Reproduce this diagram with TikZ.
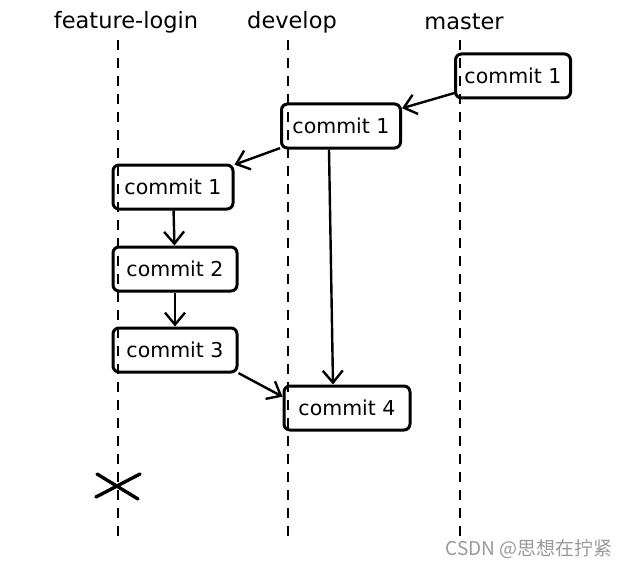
\documentclass[tikz,border=0pt]{standalone}
\usepackage{fontspec}
\setmainfont{DejaVu Sans}
\newfontfamily\cjkfont{Noto Sans CJK SC}
\usetikzlibrary{arrows.meta}
\tikzset{
  commit/.style={draw,rounded corners=6pt,line width=3pt,minimum height=44pt,inner sep=0pt,font=\fontsize{20.5}{24}\selectfont},
  branch/.style={font=\fontsize{22.5}{26}\selectfont},
  lifeline/.style={line width=2.8pt,dash pattern=on 10pt off 8pt},
  flow/.style={-{Straight Barb[length=12pt,width=20pt,line width=2.4pt]},line width=2.4pt}
}
\begin{document}
\begin{tikzpicture}[x=1pt,y=-1pt]
      \useasboundingbox (0,0) rectangle (631,567);

      % branch names and their lifelines
      \node[branch] (fl) at (126,22) {feature-login};
      \node[branch] (dv) at (292,22) {develop};
      \node[branch] (ms) at (464,22) {master};
      \coordinate (fltop) at (118,40);  \coordinate (flend) at (118,540);
      \coordinate (dvtop) at (288,40);  \coordinate (dvend) at (288,540);
      \coordinate (mstop) at (460,40);  \coordinate (msend) at (460,540);
      \draw[lifeline] (fltop) -- (flend);
      \draw[lifeline] (dvtop) -- (dvend);
      \draw[lifeline] (mstop) -- (msend);

      % commits
      \node[commit,minimum width=115pt] (m1) at (513,76)  {commit 1};
      \node[commit,minimum width=119pt] (d1) at (341,126) {commit 1};
      \node[commit,minimum width=120pt] (f1) at (173,187) {commit 1};
      \node[commit,minimum width=124pt] (f2) at (175,269) {commit 2};
      \node[commit,minimum width=124pt] (f3) at (175,350) {commit 3};
      \node[commit,minimum width=126pt] (d4) at (347,408) {commit 4};

      \path[flow] (m1) edge (d1);
      \path[flow] (d1) edge (f1);
      \path[flow] (f1) edge (f2);
      \path[flow] (f2) edge (f3);
      \path[flow] (f3.-20) edge (d4.170);
      \path[flow] ([xshift=-12pt]d1.south) edge ([xshift=-14pt]d4.north);

      % branch deleted
      \coordinate (kill) at (118,486);
      \draw[line width=3.4pt,line cap=round] ([shift={(-21,-12)}]kill) -- ([shift={(20,13)}]kill)
                                             ([shift={(22,-12)}]kill) -- ([shift={(-22,11)}]kill);

      \node[font=\cjkfont\fontsize{19}{22}\selectfont,text=black!40,anchor=east] (wm) at (616,549) {CSDN @思想在拧紧};
\end{tikzpicture}
\end{document}
